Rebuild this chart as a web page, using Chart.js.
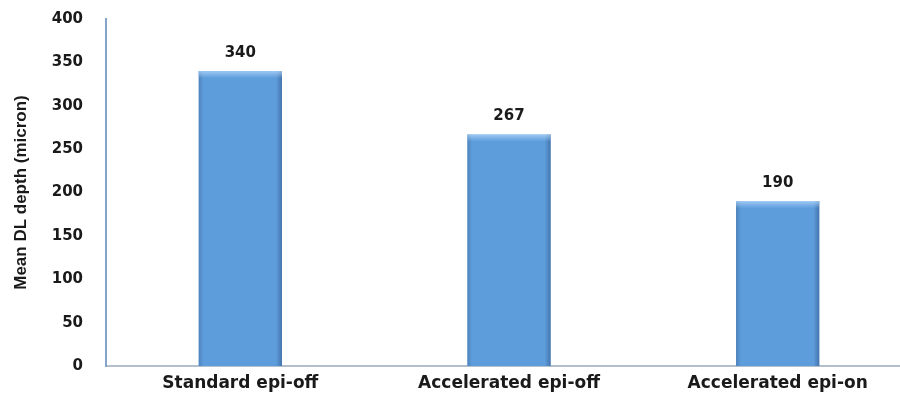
<!DOCTYPE html>
<html>
<head>
<meta charset="utf-8">
<script src="https://cdn.jsdelivr.net/npm/chart.js@4"></script>
<style>
  html, body { margin: 0; padding: 0; background: #ffffff; overflow: hidden; }
  #wrap { width: 900px; height: 399px; overflow: hidden; position: relative; }
  canvas { display: block; }
</style>
</head>
<body>
<div id="wrap"><canvas id="chart" width="912" height="399"></canvas></div>
<script>
// Mean demarcation-line depth by cross-linking protocol
const categories = ['Standard epi-off', 'Accelerated epi-off', 'Accelerated epi-on'];
const depthValues = [340, 267, 190];
const yTicks = [0, 50, 100, 150, 200, 250, 300, 350, 400];
const yTitle = 'Mean DL depth (micron)';

const fontFamily = '"DejaVu Sans", Verdana, sans-serif';

// Shades the bar edges and adds the value above each bar
const barDecor = {
  id: 'barDecor',
  afterDatasetsDraw(chart) {
    const ctx = chart.ctx;
    const meta = chart.getDatasetMeta(0);
    meta.data.forEach((bar, i) => {
      const { x, y, base, width } = bar.getProps(['x', 'y', 'base', 'width'], true);
      const left = x - width / 2;
      const right = x + width / 2;
      ctx.save();
      // left edge
      let g = ctx.createLinearGradient(left, 0, left + 5, 0);
      g.addColorStop(0, 'rgba(60,100,150,0.45)');
      g.addColorStop(1, 'rgba(60,100,150,0)');
      ctx.fillStyle = g;
      ctx.fillRect(left, y, 5, base - y);
      // right edge
      g = ctx.createLinearGradient(right - 6, 0, right, 0);
      g.addColorStop(0, 'rgba(50,90,140,0)');
      g.addColorStop(1, 'rgba(50,90,140,0.6)');
      ctx.fillStyle = g;
      ctx.fillRect(right - 6, y, 6, base - y);
      // top highlight
      g = ctx.createLinearGradient(0, y, 0, y + 7);
      g.addColorStop(0, 'rgba(180,215,250,0.75)');
      g.addColorStop(1, 'rgba(180,215,250,0)');
      ctx.fillStyle = g;
      ctx.fillRect(left, y, width, 7);
      // value label
      ctx.font = 'bold 15px ' + fontFamily;
      ctx.fillStyle = '#1a1a1a';
      ctx.textAlign = 'center';
      ctx.textBaseline = 'alphabetic';
      ctx.fillText(String(depthValues[i]), x, y - 14);
      ctx.restore();
    });
  }
};

new Chart(document.getElementById('chart'), {
  type: 'bar',
  data: {
    labels: categories,
    datasets: [{
      data: depthValues,
      backgroundColor: '#5e9ddc',
      borderWidth: 0,
      barPercentage: 0.62,
      categoryPercentage: 0.5
    }]
  },
  options: {
    responsive: false,
    animation: false,
    layout: { padding: { top: 19, right: 0, left: 0, bottom: 0 } },
    plugins: {
      legend: { display: false },
      tooltip: { enabled: false }
    },
    scales: {
      x: {
        grid: { display: false, drawTicks: false },
        border: { display: true, color: '#b3bfcd', width: 2 },
        ticks: { color: '#1a1a1a', font: { family: fontFamily, size: 17, weight: 'bold' }, padding: 7 },
        afterFit(scale) { scale.height = 33; }
      },
      y: {
        min: 0,
        max: 400,
        afterBuildTicks(scale) { scale.ticks = yTicks.map(v => ({ value: v })); },
        // hidden tick marks keep the gap between labels and the axis line
        grid: { display: false, drawTicks: true, tickLength: 19 },
        border: { display: true, color: '#86a3c9', width: 2 },
        ticks: { color: '#1a1a1a', font: { family: fontFamily, size: 15, weight: 'bold' }, padding: 4 },
        title: {
          display: true,
          text: yTitle,
          color: '#1a1a1a',
          font: { family: '"Liberation Sans", Arial, sans-serif', size: 17, weight: 'bold' },
          padding: { top: 11, bottom: 0 }
        },
        afterFit(scale) { scale.width = 106; }
      }
    }
  },
  plugins: [barDecor]
});
</script>
</body>
</html>
